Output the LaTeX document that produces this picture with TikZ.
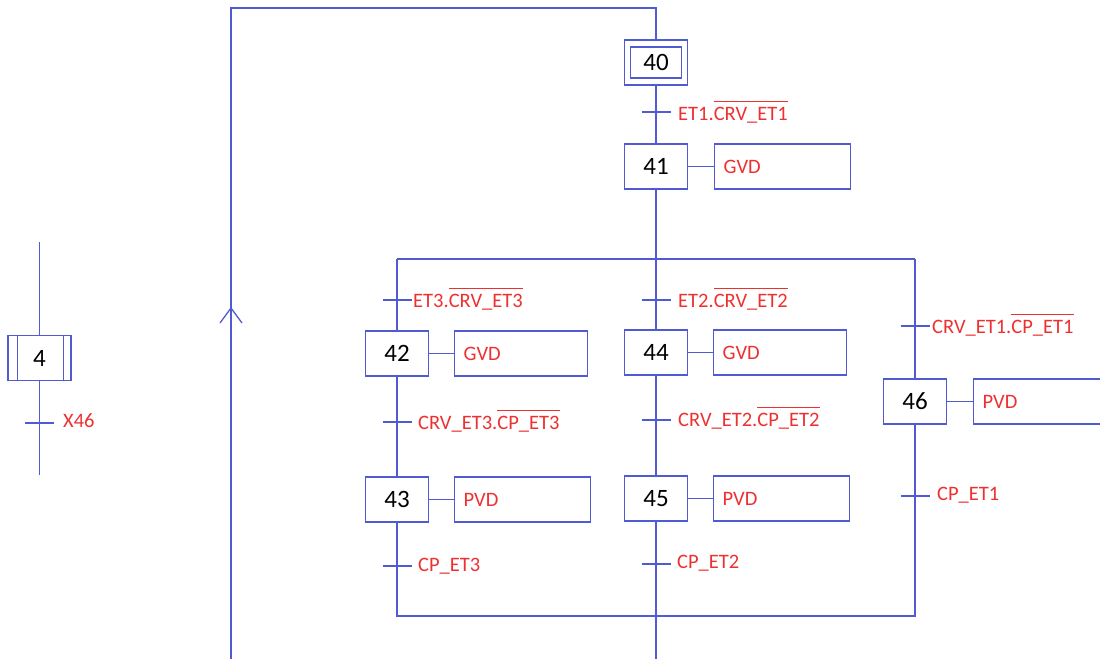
\documentclass[tikz,border=0pt]{standalone}
\usepackage{fontspec}
\setmainfont{Carlito}
\definecolor{grafblue}{RGB}{80,90,210}
\definecolor{grafred}{RGB}{238,48,48}
\newcommand{\nonv}[1]{\setbox0\hbox{#1}\rlap{\rule[\dimexpr\ht0+4.5pt\relax]{\wd0}{1.2pt}}\box0}

\begin{document}
\begin{tikzpicture}[x=1pt,y=-1pt,
    etape/.style={draw=grafblue, line width=1.3pt, minimum width=63pt, minimum height=45pt, inner sep=0pt, font=\fontsize{25}{27}\selectfont},
    action/.style={draw=grafblue, line width=1.3pt, anchor=west, minimum height=45pt, text width=#1, inner xsep=9pt, inner ysep=0pt, align=left, text=grafred, font=\fontsize{20.5}{22}\selectfont},
    recep/.style={anchor=west, inner sep=0pt, text=grafred, font=\fontsize{20.5}{22}\selectfont},
    lien/.style={draw=grafblue, line width=1.3pt}
]
\useasboundingbox (0,0) rectangle (1100,659);
\clip (0,0) rectangle (1100,659);

% step 4 (left)
\node[etape] (s4) at (39.5,358) {4};
\draw[lien] ([xshift=10pt]s4.north west) -- ([xshift=10pt]s4.south west);
\draw[lien] ([xshift=-8pt]s4.north east) -- ([xshift=-8pt]s4.south east);
\coordinate (h4) at (39.5,242);
\coordinate (b4) at (39.5,475);
\draw[lien] (h4) -- (s4);
\draw[lien] (s4) -- (b4);

% steps
\node[etape, minimum width=51pt, minimum height=31pt] (s40) at (656,62.5) {40};
\node[etape] (s40o) at (656,62.5) {};
\node[etape] (s41) at (656,166.5) {41};
\node[etape] (s42) at (397,353.5) {42};
\node[etape] (s43) at (397,499.5) {43};
\node[etape] (s44) at (656,352.5) {44};
\node[etape] (s45) at (656,498.5) {45};
\node[etape] (s46) at (915,401.5) {46};

% actions
\node[action=118pt] (a41) at (714,166.5) {GVD};
\node[action=115pt] (a42) at (454,353.5) {GVD};
\node[action=118pt] (a43) at (454,499.5) {PVD};
\node[action=115pt] (a44) at (713,352.5) {GVD};
\node[action=118pt] (a45) at (713,498.5) {PVD};
\node[action=140pt] (a46) at (973,401.5) {PVD};
\foreach \n in {41,...,46} {
  \draw[lien] (s\n) -- (a\n);
}

% links
\coordinate (hb) at (656,8);
\coordinate (hg) at (231,8);
\coordinate (bg) at (231,659);
\coordinate (fl) at (231,308);
\draw[lien] (bg) -- (hg) -- (hb) -- (s40o);
\draw[lien] ([shift={(-11pt,-15pt)}]fl) -- (fl) -- ([shift={(11pt,-15pt)}]fl);
\draw[lien] (s40o) -- (s41);

\coordinate (dv) at (656,259);
\coordinate (dvG) at (397,259);
\coordinate (dvD) at (915,259);
\draw[lien] (s41) -- (dv);
\draw[lien] (dvG) -- (dvD);
\draw[lien] (dvG) -- (s42);
\draw[lien] (dv) -- (s44);
\draw[lien] (dvD) -- (s46);
\draw[lien] (s42) -- (s43);
\draw[lien] (s44) -- (s45);

\coordinate (cvG) at (397,616);
\coordinate (cvD) at (915,616);
\coordinate (fin) at (656,659);
\draw[lien] (s43) -- (cvG) -- (cvD) -- (s46);
\draw[lien] (s45) -- (fin);

% transitions
\foreach \n/\x/\y in {0/39.5/423, 1/656/112, 2/397/300, 3/656/300, 4/915/326, 5/397/422, 6/656/420, 7/915/496, 8/397/566, 9/656/564} {
  \coordinate (r\n) at (\x,\y);
  \draw[lien] ([xshift=-14.5pt]r\n) -- ([xshift=14.5pt]r\n);
}
\node[recep] (l0) at (63,421) {X46};
\node[recep] (l1) at (678,112) {ET1.\nonv{CRV\_ET1}};
\node[recep] (l2) at (413,299) {ET3.\nonv{CRV\_ET3}};
\node[recep] (l3) at (678,299) {ET2.\nonv{CRV\_ET2}};
\node[recep] (l4) at (932,325) {CRV\_ET1.\nonv{CP\_ET1}};
\node[recep] (l5) at (418,421) {CRV\_ET3.\nonv{CP\_ET3}};
\node[recep] (l6) at (678,418) {CRV\_ET2.\nonv{CP\_ET2}};
\node[recep] (l7) at (937,495) {CP\_ET1};
\node[recep] (l8) at (418,566) {CP\_ET3};
\node[recep] (l9) at (677,563) {CP\_ET2};
\end{tikzpicture}
\end{document}
